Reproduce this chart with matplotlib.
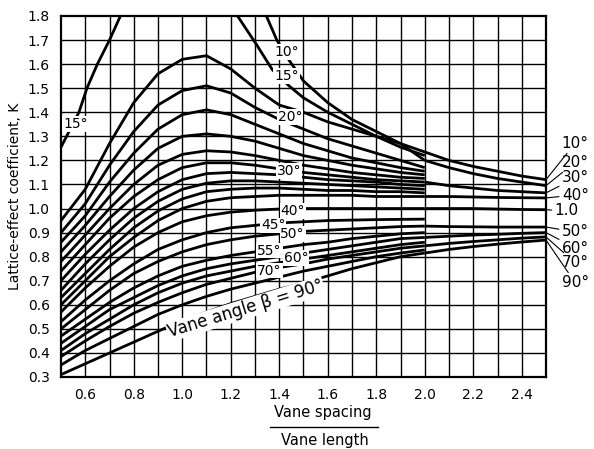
import matplotlib

matplotlib.use("Agg")
import matplotlib.pyplot as plt
import numpy as np

# x positions (vane spacing / vane length) where the curves were read
XS = [0.5, 0.6, 0.7, 0.8, 0.9, 1.0, 1.1, 1.2, 1.3, 1.4, 1.5, 1.6, 1.7, 1.8, 1.9, 2.0]
XR = [2.0, 2.1, 2.2, 2.3, 2.4, 2.5]

# peaked family (low vane angles), read at XS
k20 = [0.95, 1.08, 1.27, 1.44, 1.56, 1.62, 1.635, 1.58, 1.50, 1.43, 1.40, 1.36, 1.33, 1.30, 1.27, 1.20]
k22 = [0.90, 1.02, 1.18, 1.32, 1.43, 1.49, 1.51, 1.48, 1.42, 1.37, 1.33, 1.29, 1.26, 1.23, 1.20, 1.17]
k24 = [0.86, 0.97, 1.11, 1.23, 1.33, 1.39, 1.41, 1.39, 1.35, 1.31, 1.27, 1.24, 1.21, 1.19, 1.17, 1.155]
k26 = [0.82, 0.93, 1.05, 1.16, 1.25, 1.30, 1.31, 1.30, 1.28, 1.25, 1.22, 1.20, 1.18, 1.165, 1.15, 1.14]
k28 = [0.78, 0.89, 1.00, 1.10, 1.18, 1.225, 1.24, 1.235, 1.22, 1.20, 1.18, 1.165, 1.15, 1.14, 1.13, 1.125]
k30 = [0.74, 0.85, 0.96, 1.05, 1.12, 1.17, 1.19, 1.19, 1.18, 1.165, 1.15, 1.14, 1.13, 1.12, 1.115, 1.11]
k32 = [0.70, 0.81, 0.91, 1.00, 1.07, 1.12, 1.145, 1.15, 1.145, 1.14, 1.13, 1.12, 1.115, 1.11, 1.10, 1.095]
k34 = [0.66, 0.77, 0.87, 0.96, 1.03, 1.08, 1.105, 1.115, 1.115, 1.11, 1.105, 1.10, 1.095, 1.09, 1.085, 1.08]
k36 = [0.63, 0.73, 0.83, 0.92, 0.99, 1.04, 1.07, 1.08, 1.085, 1.085, 1.08, 1.075, 1.075, 1.07, 1.07, 1.065]
k38 = [0.60, 0.70, 0.80, 0.88, 0.95, 1.00, 1.03, 1.045, 1.05, 1.055, 1.055, 1.055, 1.055, 1.05, 1.05, 1.05]
k40 = [0.57, 0.67, 0.76, 0.84, 0.90, 0.945, 0.97, 0.985, 0.993, 0.998, 1.0, 1.0, 1.0, 1.0, 1.0, 1.0]
# rising family (high vane angles), read at XS
k45 = [0.53, 0.62, 0.70, 0.77, 0.83, 0.87, 0.90, 0.92, 0.93, 0.94, 0.945, 0.95, 0.952, 0.954, 0.955, 0.956]
k50 = [0.50, 0.58, 0.66, 0.73, 0.78, 0.82, 0.85, 0.87, 0.885, 0.895, 0.905, 0.91, 0.915, 0.92, 0.925, 0.927]
k55 = [0.47, 0.54, 0.61, 0.67, 0.72, 0.76, 0.785, 0.805, 0.82, 0.835, 0.85, 0.86, 0.875, 0.885, 0.895, 0.90]
k60 = [0.44, 0.51, 0.58, 0.63, 0.68, 0.72, 0.75, 0.77, 0.785, 0.80, 0.815, 0.83, 0.845, 0.86, 0.875, 0.88]
k65 = [0.41, 0.48, 0.54, 0.60, 0.65, 0.69, 0.72, 0.74, 0.76, 0.775, 0.79, 0.805, 0.82, 0.835, 0.85, 0.86]
k70 = [0.385, 0.45, 0.51, 0.565, 0.61, 0.65, 0.685, 0.71, 0.735, 0.755, 0.77, 0.79, 0.805, 0.82, 0.835, 0.845]
k80 = [0.35, 0.41, 0.46, 0.51, 0.56, 0.60, 0.635, 0.665, 0.69, 0.715, 0.74, 0.76, 0.78, 0.80, 0.815, 0.828]
k90 = [0.31, 0.355, 0.40, 0.445, 0.49, 0.535, 0.57, 0.605, 0.635, 0.665, 0.69, 0.72, 0.75, 0.775, 0.80, 0.815]

# branches of the 10 and 15 degree curves
x10 = [1.347, 1.39, 1.44, 1.5, 1.6, 1.7, 1.8, 1.9, 2.0, 2.1, 2.2, 2.3, 2.4, 2.5]
k10 = [1.80, 1.70, 1.617, 1.53, 1.44, 1.37, 1.32, 1.27, 1.235, 1.20, 1.175, 1.155, 1.135, 1.12]
x15d = [1.228, 1.307, 1.372, 1.44, 1.5, 1.6, 1.7, 1.8, 1.9, 2.0]
k15d = [1.80, 1.68, 1.576, 1.51, 1.46, 1.40, 1.35, 1.30, 1.255, 1.22]
x15a = [0.5, 0.574, 0.607, 0.65, 0.70, 0.745]
k15a = [1.255, 1.40, 1.50, 1.60, 1.70, 1.80]

# continuations beyond 2.0 for the curves labelled at the right, read at XR
r20 = [1.20, 1.17, 1.145, 1.125, 1.11, 1.095]
r30 = [1.11, 1.095, 1.085, 1.075, 1.07, 1.065]
r40 = [1.05, 1.05, 1.048, 1.046, 1.045, 1.044]
r1 = [1.0, 1.0, 1.0, 0.998, 0.996, 0.995]
r50 = [0.927, 0.925, 0.924, 0.923, 0.923, 0.923]
r60 = [0.88, 0.885, 0.89, 0.893, 0.897, 0.90]
r70 = [0.845, 0.855, 0.863, 0.87, 0.877, 0.882]
r90 = [0.815, 0.83, 0.842, 0.852, 0.861, 0.869]

right_labels = ["10°", "20°", "30°", "40°", "1.0", "50°", "60°", "70°", "90°"]
right_ends = [1.12, 1.095, 1.065, 1.044, 0.995, 0.923, 0.90, 0.882, 0.869]
right_text_y = [1.272, 1.193, 1.127, 1.056, 0.99, 0.903, 0.836, 0.774, 0.691]

inner_labels = ["15°", "10°", "15°", "20°", "30°", "40°", "45°", "50°", "55°", "60°", "70°"]
inner_x = [0.56, 1.43, 1.43, 1.445, 1.44, 1.456, 1.375, 1.455, 1.36, 1.47, 1.36]
inner_y = [1.35, 1.65, 1.55, 1.38, 1.155, 0.99, 0.93, 0.895, 0.825, 0.795, 0.742]

fig = plt.figure(figsize=(5.94, 4.49), dpi=100)
ax = fig.add_axes([61 / 594, 1 - 377 / 449, 485 / 594, 361 / 449])
ax.set_xlim(0.5, 2.5)
ax.set_ylim(0.3, 1.8)

for gx in np.arange(0.6, 2.45, 0.1):
    ax.axvline(gx, color="black", lw=1.0, zorder=1)
for gy in np.arange(0.4, 1.75, 0.1):
    ax.axhline(gy, color="black", lw=1.0, zorder=1)

line_kw = dict(color="black", lw=2.0, solid_capstyle="butt", zorder=2)
for ks in [k20, k22, k24, k26, k28, k30, k32, k34, k36, k38, k40,
           k45, k50, k55, k60, k65, k70, k80, k90]:
    ax.plot(XS, ks, **line_kw)
for ks in [r20, r30, r40, r1, r50, r60, r70, r90]:
    ax.plot(XR, ks, **line_kw)
ax.plot(x10, k10, **line_kw)
ax.plot(x15d, k15d, **line_kw)
ax.plot(x15a, k15a, **line_kw)

lab_kw = dict(ha="center", va="center", zorder=4,
              bbox=dict(facecolor="white", edgecolor="none", pad=0.6))
for txt, x, y in zip(inner_labels, inner_x, inner_y):
    ax.text(x, y, txt, fontsize=10, **lab_kw)
ax.text(1.261, 0.583, "Vane angle β = 90°", fontsize=12, rotation=17,
        rotation_mode="anchor", **lab_kw)

for txt, ye, yt in zip(right_labels, right_ends, right_text_y):
    tx = 2.535 if txt == "1.0" else 2.565
    ax.annotate(txt, xy=(2.5, ye), xytext=(tx, yt), fontsize=11, va="center",
                annotation_clip=False,
                arrowprops=dict(arrowstyle="-", lw=0.8, color="black",
                                shrinkA=0, shrinkB=0))

ax.set_xticks([0.6, 0.8, 1.0, 1.2, 1.4, 1.6, 1.8, 2.0, 2.2, 2.4])
ax.set_xticklabels(["0.6", "0.8", "1.0", "1.2", "1.4", "1.6", "1.8", "2.0", "2.2", "2.4"])
ax.set_yticks(np.round(np.arange(0.3, 1.81, 0.1), 1))
ax.set_yticklabels([f"{v:.1f}" for v in np.arange(0.3, 1.81, 0.1)])
ax.tick_params(length=0, labelsize=10, pad=8)
for sp in ax.spines.values():
    sp.set_linewidth(1.6)

ax.set_ylabel("Lattice-effect coefficient, K", fontsize=10, labelpad=4)
fig.text(323 / 594, 1 - 412 / 449, "Vane spacing", fontsize=10.5, ha="center", va="center")
fig.add_artist(plt.Line2D([270 / 594, 378 / 594], [1 - 427 / 449, 1 - 427 / 449],
                          color="black", lw=1.0))
fig.text(325 / 594, 1 - 440 / 449, "Vane length", fontsize=10.5, ha="center", va="center")

fig.savefig("out.png", dpi=100)
